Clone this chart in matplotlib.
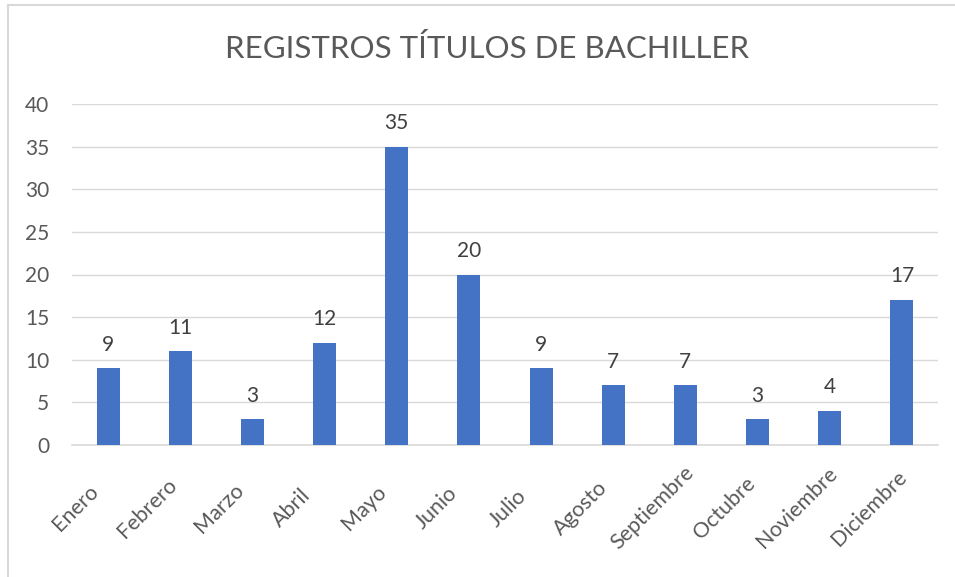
import matplotlib.pyplot as plt
from matplotlib.lines import Line2D
from matplotlib.transforms import ScaledTranslation

meses = ['Enero', 'Febrero', 'Marzo', 'Abril', 'Mayo', 'Junio', 'Julio',
         'Agosto', 'Septiembre', 'Octubre', 'Noviembre', 'Diciembre']
registros = [9, 11, 3, 12, 35, 20, 9, 7, 7, 3, 4, 17]
y_ticks = [0, 5, 10, 15, 20, 25, 30, 35, 40]

plt.rcParams['font.family'] = ['Lato', 'DejaVu Sans']
gris = '#595959'

W, H = 955, 577
fig = plt.figure(figsize=(W / 100, H / 100), dpi=100)
# chart area border (top and left only visible)
fig.lines.append(Line2D([8 / W, 1], [1 - 5 / H, 1 - 5 / H], transform=fig.transFigure,
                        color='#D9D9D9', linewidth=1.5))
fig.lines.append(Line2D([8 / W, 8 / W], [0, 1 - 5 / H], transform=fig.transFigure,
                        color='#D9D9D9', linewidth=1.5))

ax = fig.add_axes([72 / W, (H - 445) / H, (938 - 72) / W, (445 - 104) / H])
x = range(len(meses))
ax.bar(x, registros, width=0.32, color='#4472C4', zorder=3)
for xi, v in zip(x, registros):
    ax.text(xi, v + 1.6, str(v), ha='center', va='bottom', fontsize=15, color='#404040')

ax.set_xlim(-0.5, len(meses) - 0.5)
ax.set_ylim(0, 40)
ax.set_yticks(y_ticks)
ax.set_yticklabels([str(t) for t in y_ticks], fontsize=15, color=gris)
ax.set_xticks(list(x))
ax.set_xticklabels(meses, rotation=45, ha='center', va='center', rotation_mode='anchor',
                   fontsize=15.5, color=gris)
ax.tick_params(axis='both', length=0)
ax.tick_params(axis='y', pad=16.5)
ax.tick_params(axis='x', pad=0)
# Excel centres the slanted labels below-left of the tick
shift = ScaledTranslation(-33 / 100, -63 / 100, fig.dpi_scale_trans)
for lbl in ax.get_xticklabels():
    lbl.set_transform(lbl.get_transform() + shift)
ax.grid(axis='y', color='#D9D9D9', linewidth=1, zorder=0)
for s in ['top', 'right', 'left']:
    ax.spines[s].set_visible(False)
ax.spines['bottom'].set_color('#D9D9D9')
ax.spines['bottom'].set_linewidth(1.2)

fig.text(487 / W, 1 - 49 / H, 'REGISTROS TÍTULOS DE BACHILLER', ha='center', va='center',
         fontsize=22.5, color=gris)

fig.savefig('out.png', dpi=100)
